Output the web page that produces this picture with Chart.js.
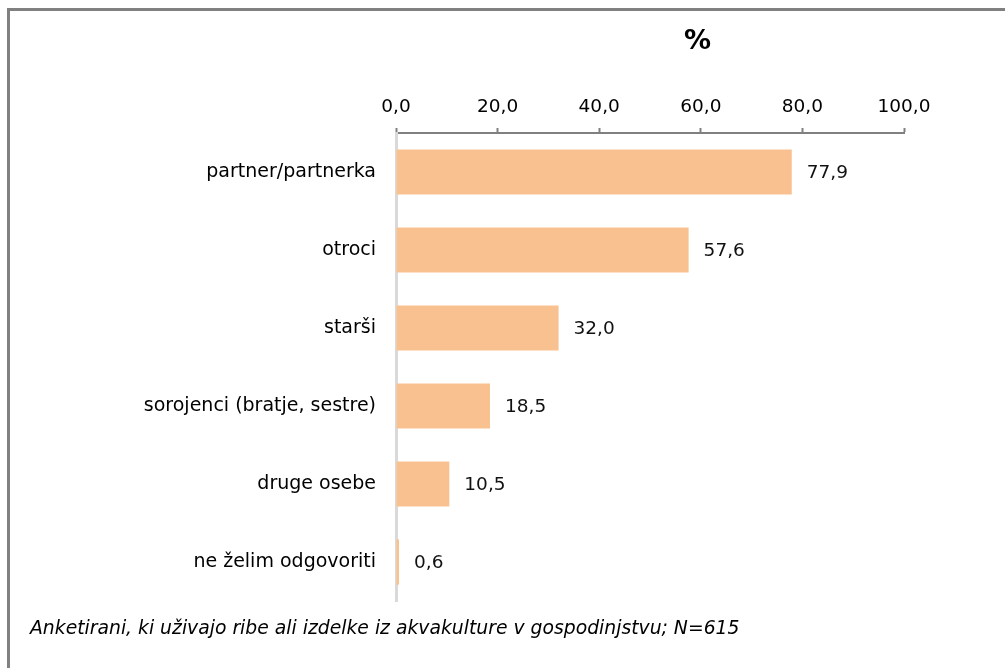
<!DOCTYPE html>
<html lang="sl">
<head>
    <meta charset="UTF-8">
    <title>Kdo v gospodinjstvu uživa ribe</title>
    <script src="https://cdn.jsdelivr.net/npm/chart.js"></script>
    <style>
        body {
            margin: 0;
            background: white;
            font-family: "DejaVu Sans", sans-serif;
        }
        .wrap {
            position: relative;
            width: 1005px;
            height: 668px;
            overflow: hidden;
        }
        .frame {
            position: absolute;
            left: 7px;
            top: 8px;
            width: 1100px;
            height: 800px;
            border-left: 3px solid #808080;
            border-top: 3px solid #808080;
        }
        canvas {
            position: absolute;
            left: 0;
            top: 0;
        }
        .unit {
            position: absolute;
            left: 684px;
            top: 24px;
            font-weight: bold;
            font-size: 27px;
            color: #000;
        }
        .note {
            position: absolute;
            left: 30px;
            top: 617px;
            font-style: italic;
            font-size: 18.8px;
            color: #000;
        }
    </style>
</head>
<body>
<div class="wrap">
    <div class="frame"></div>
    <canvas id="chart" width="1005" height="668"></canvas>
    <div class="unit">%</div>
    <div class="note">Anketirani, ki uživajo ribe ali izdelke iz akvakulture v gospodinjstvu; N=615</div>
</div>

<script>
    const categories = [
        'partner/partnerka',
        'otroci',
        'starši',
        'sorojenci (bratje, sestre)',
        'druge osebe',
        'ne želim odgovoriti'
    ];
    const shares = [77.9, 57.6, 32.0, 18.5, 10.5, 0.6];
    const xTicks = [0, 20, 40, 60, 80, 100];

    const fmt = v => v.toFixed(1).replace('.', ',');

    // value labels to the right of each bar
    const valueLabels = {
        id: 'valueLabels',
        afterDatasetsDraw(chart) {
            const ctx = chart.ctx;
            const meta = chart.getDatasetMeta(0);
            ctx.save();
            ctx.font = '18.5px "DejaVu Sans"';
            ctx.fillStyle = '#111';
            ctx.textAlign = 'left';
            ctx.textBaseline = 'middle';
            meta.data.forEach((bar, i) => {
                ctx.fillText(fmt(shares[i]), bar.x + 15, bar.y + 1);
            });
            ctx.restore();
        }
    };

    new Chart(document.getElementById('chart'), {
        type: 'bar',
        data: {
            labels: categories,
            datasets: [{
                data: shares,
                backgroundColor: '#f9c18f',
                borderWidth: 0,
                categoryPercentage: 0.58,
                barPercentage: 1.0
            }]
        },
        options: {
            indexAxis: 'y',
            responsive: false,
            animation: false,
            layout: { padding: { top: 0, right: 101, bottom: 67, left: 0 } },
            plugins: {
                legend: { display: false },
                tooltip: { enabled: false }
            },
            scales: {
                x: {
                    position: 'top',
                    min: 0,
                    max: 100,
                    afterBuildTicks: scale => {
                        scale.ticks = xTicks.map(v => ({ value: v }));
                    },
                    afterFit: scale => { scale.height = 133; },
                    grid: {
                        drawOnChartArea: false,
                        drawTicks: true,
                        tickLength: 5,
                        tickWidth: 2,
                        color: '#808080'
                    },
                    border: { display: true, color: '#808080', width: 2 },
                    ticks: {
                        padding: 10,
                        color: '#000',
                        font: { family: 'DejaVu Sans', size: 18.5 },
                        callback: v => fmt(v)
                    }
                },
                y: {
                    afterFit: scale => { scale.width = 396; },
                    grid: { display: false, drawTicks: false },
                    border: { display: true, color: '#d9d9d9', width: 3 },
                    ticks: {
                        padding: 20,
                        color: '#000',
                        font: { family: 'DejaVu Sans', size: 19 }
                    }
                }
            }
        },
        plugins: [valueLabels]
    });
</script>
</body>
</html>
